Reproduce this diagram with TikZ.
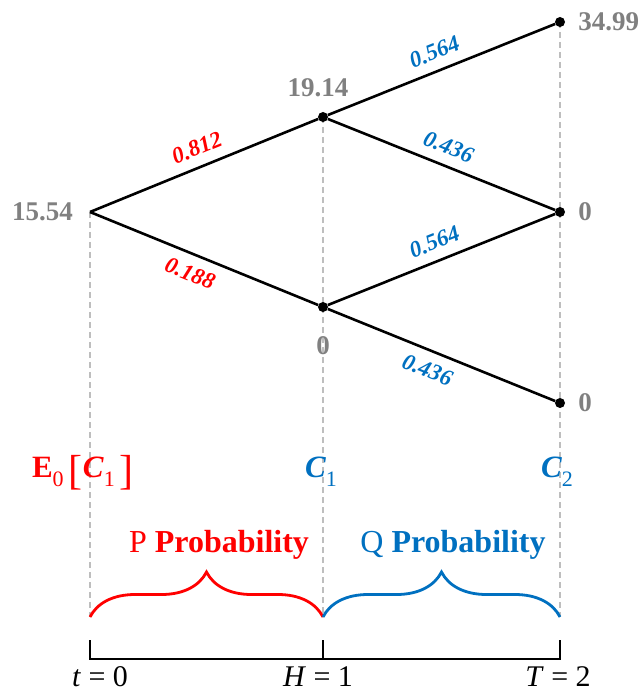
\documentclass[tikz,border=0pt]{standalone}
\usepackage{fontspec}
\setmainfont{Liberation Serif}
\usetikzlibrary{positioning,decorations.pathreplacing,backgrounds}

\definecolor{pred}{RGB}{255,0,0}
\definecolor{qblue}{RGB}{0,112,192}
\definecolor{valgray}{RGB}{128,128,128}
\definecolor{guidegray}{RGB}{190,190,190}

\newcommand{\lowidx}[1]{\raisebox{-9pt}{\normalfont\fontsize{22}{22}\selectfont #1}}
\newcommand{\bigbrk}[1]{\raisebox{-7pt}{\normalfont\fontsize{42}{42}\selectfont #1}}

\begin{document}
\begin{tikzpicture}[x=1pt,y=-1pt,
  dot/.style={circle,fill=black,inner sep=0pt,minimum size=10pt},
  edge/.style={line width=2.6pt},
  val/.style={text=valgray,font=\fontsize{27}{30}\selectfont\bfseries,inner sep=0pt},
  plab/.style={sloped,text=pred,font=\fontsize{23}{25}\selectfont\bfseries\itshape,inner sep=10pt},
  qlab/.style={plab,text=qblue},
  guide/.style={guidegray,line width=1.2pt,dash pattern=on 6pt off 4pt},
  brc/.style={decorate,decoration={brace,amplitude=45pt},line width=2.8pt},
  axis/.style={line width=2.8pt},
  timelab/.style={anchor=base,inner sep=0pt,font=\fontsize{31}{34}\selectfont},
  problab/.style={anchor=base,inner sep=0pt,font=\fontsize{32}{34}\selectfont},
  ticklab/.style={anchor=base,inner sep=0pt,font=\fontsize{30}{32}\selectfont}]
\useasboundingbox (0,0) rectangle (642,692);

\coordinate (r) at (90,212);
\node[dot] (u) at (323,117) {};
\node[dot] (d) at (323,307) {};
\node[dot] (uu) at (560,22) {};
\node[dot] (ud) at (560,212) {};
\node[dot] (dd) at (560,403) {};

\coordinate (b0) at (90,617);
\coordinate (b1) at (323,617);
\coordinate (b2) at (560,617);
\coordinate (a0) at (90,659);
\coordinate (a1) at (323,659);
\coordinate (a2) at (560,659);

\begin{scope}[on background layer]
\draw[guide] (r) -- (b0);
\draw[guide] (u.center) -- (b1);
\draw[guide] (uu.center) -- (b2);
\end{scope}

\draw[edge] (r) -- node[plab,above] {0.812} (u);
\draw[edge] (r) -- node[plab,below,pos=0.47] {0.188} (d);
\draw[edge] (u) -- node[qlab,above] {0.564} (uu);
\draw[edge] (u) -- node[qlab,above] {0.436} (ud);
\draw[edge] (d) -- node[qlab,above] {0.564} (ud);
\draw[edge] (d) -- node[qlab,below,pos=0.47] {0.436} (dd);

\node[val,left=17pt of r] (vr) {15.54};
\node[val,above=15pt of u,xshift=-5pt] (vu) {19.14};
\node[val,below=24pt of d] (vd) {0};
\node[val,right=13pt of uu] (vuu) {34.99};
\node[val,right=13pt of ud] (vud) {0};
\node[val,right=13pt of dd] (vdd) {0};

\node[timelab,text=pred] (e0) at (83,477)
  {\textbf{E}\lowidx{0}\,\bigbrk{[}\textbf{\textit{C}}\lowidx{1}\,\bigbrk{]}};
\node[timelab,text=qblue] (c1) at (321,477) {\textbf{\textit{C}}\lowidx{1}};
\node[timelab,text=qblue] (c2) at (557,477) {\textbf{\textit{C}}\lowidx{2}};

\node[problab,text=pred] (pp) at (219,552) {P \textbf{Probability}};
\node[problab,text=qblue] (qp) at (453,552) {Q \textbf{Probability}};

\draw[brc,pred] (b0) -- (b1);
\draw[brc,qblue] (b1) -- (b2);

\draw[axis] (90,640) -- (a0) -- (a2) -- (560,640);
\draw[axis] (323,640) -- (a1);

\node[ticklab] (t0) at (100,686) {\textit{t} = 0};
\node[ticklab] (t1) at (318,686) {\textit{H} = 1};
\node[ticklab] (t2) at (558,686) {\textit{T} = 2};
\end{tikzpicture}
\end{document}
